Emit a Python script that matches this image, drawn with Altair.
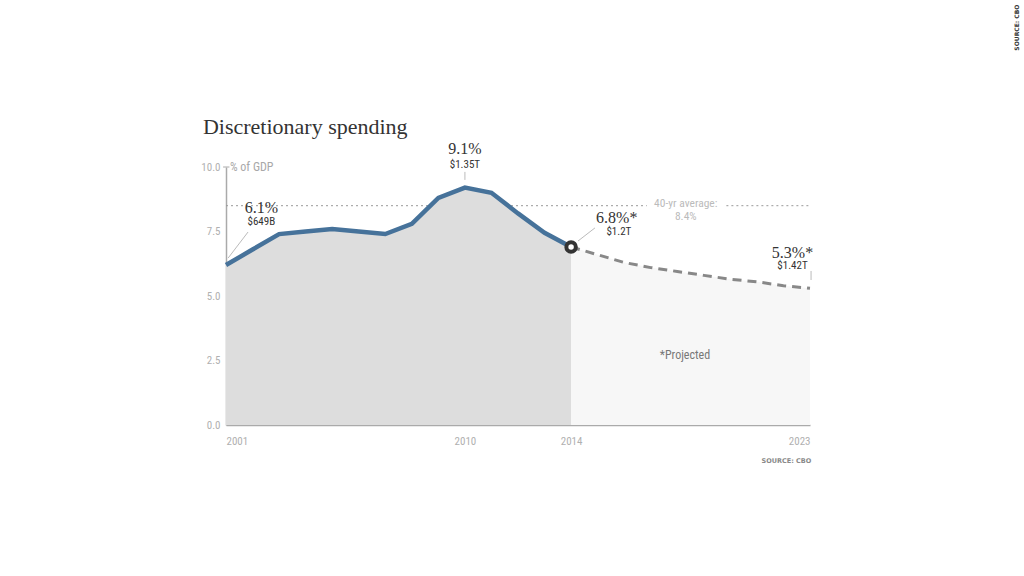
import altair as alt
import pandas as pd

# ---- data ----
hist_years = [2001, 2002, 2003, 2004, 2005, 2006, 2007, 2008, 2009, 2010, 2011, 2012, 2013, 2014]
hist_vals = [6.2, 6.8, 7.4, 7.5, 7.6, 7.5, 7.4, 7.8, 8.8, 9.2, 9.0, 8.2, 7.45, 6.9]
proj_years = [2014, 2015, 2016, 2017, 2018, 2019, 2020, 2021, 2022, 2023]
proj_vals = [6.9, 6.6, 6.3, 6.1, 5.95, 5.8, 5.65, 5.55, 5.4, 5.3]
avg_value = 8.5
avg_segments_start = [2001, 2019.85]
avg_segments_end = [2016.85, 2023]

big_labels = ["6.1%", "9.1%", "6.8%*", "5.3%*"]
big_x = [2002.33, 2010.0, 2015.72, 2022.34]
big_y = [8.2, 10.49, 7.83, 6.48]
small_labels = ["$649B", "$1.35T", "$1.2T", "$1.42T"]
small_x = [2002.33, 2010.0, 2015.8, 2022.34]
small_y = [7.75, 9.98, 7.37, 6.03]
gray_labels = ["40-yr average:", "8.4%"]
gray_x = [2018.32, 2018.32]
gray_y = [8.45, 7.96]

leader_x = [2001.08, 2010.0, 2014.26, 2023.04]
leader_x2 = [2001.83, 2010.0, 2014.9, 2023.04]
leader_y = [6.47, 9.81, 7.13, 5.97]
leader_y2 = [7.48, 9.50, 7.64, 5.62]

x_ticks = [2001, 2010, 2014, 2023]
y_ticks = [0, 2.5, 5, 7.5, 10]

SERIF = "Liberation Serif, DejaVu Serif, serif"
NARROW = "Liberation Sans Narrow, Roboto Condensed, Roboto, Liberation Sans, sans-serif"

hist = pd.DataFrame({"year": hist_years, "val": hist_vals})
proj = pd.DataFrame({"year": proj_years, "val": proj_vals})
avg = pd.DataFrame({"x": avg_segments_start, "x2": avg_segments_end, "y": [avg_value] * 2})
bigs = pd.DataFrame({"x": big_x, "y": big_y, "t": big_labels})
smalls = pd.DataFrame({"x": small_x, "y": small_y, "t": small_labels})
grays = pd.DataFrame({"x": gray_x, "y": gray_y, "t": gray_labels})
leaders = pd.DataFrame({"x": leader_x, "x2": leader_x2, "y": leader_y, "y2": leader_y2})

xs = alt.Scale(domain=[2001, 2023], nice=False, zero=False)
ys = alt.Scale(domain=[0, 10], nice=False)

X = lambda f: alt.X(f, type="quantitative", scale=xs,
                    axis=alt.Axis(values=x_ticks, format="d", title=None, grid=False,
                                  tickSize=0, labelPadding=10, labelColor="#b0b0b0",
                                  labelFont=NARROW, labelFontSize=11, domainColor="#aaaaaa",
                                  domainWidth=1.5))
Y = lambda f: alt.Y(f, type="quantitative", scale=ys,
                    axis=alt.Axis(values=y_ticks, format=".1f", title=None, grid=False,
                                  tickSize=0, labelPadding=6, labelColor="#b0b0b0",
                                  labelFont=NARROW, labelFontSize=11, domainColor="#aaaaaa",
                                  domainWidth=1.5))

avg_rule = alt.Chart(avg).mark_rule(color="#999999", strokeDash=[2, 3], strokeWidth=1).encode(
    x=X("x"), x2="x2", y=Y("y"))
area_h = alt.Chart(hist).mark_area(color="#dddddd").encode(x=X("year"), y=Y("val"))
area_p = alt.Chart(proj).mark_area(color="#f7f7f7").encode(x=X("year"), y=Y("val"))
line_h = alt.Chart(hist).mark_line(color="#46729a", strokeWidth=4.5).encode(x=X("year"), y=Y("val"))
line_p = alt.Chart(proj).mark_line(color="#888888", strokeWidth=3, strokeDash=[9, 6]).encode(
    x=X("year"), y=Y("val"))
dot = alt.Chart(hist.tail(1)).mark_point(shape="circle", size=90, filled=False, fill="white",
                                           fillOpacity=1, stroke="#333333", strokeWidth=4,
                                           opacity=1).encode(x=X("year"), y=Y("val"))
lead = alt.Chart(leaders).mark_rule(color="#bbbbbb", strokeWidth=1).encode(
    x=X("x"), x2="x2", y=Y("y"), y2="y2")
big_t = alt.Chart(bigs).mark_text(font=SERIF, fontSize=16, color="#333333",
                                  baseline="alphabetic").encode(
    x=X("x"), y=Y("y"), text="t")
small_t = alt.Chart(smalls).mark_text(font=NARROW, fontSize=11, color="#333333",
                                      baseline="alphabetic").encode(
    x=X("x"), y=Y("y"), text="t")
gray_t = alt.Chart(grays).mark_text(font=NARROW, fontSize=11.5, color="#bbbbbb",
                                    baseline="alphabetic").encode(
    x=X("x"), y=Y("y"), text="t")

misc = pd.DataFrame({
    "x": [2018.29, 2001.15, 2000.13, 2023.05],
    "y": [2.71, 10.0, 11.28, -1.4],
    "t": ["*Projected", "% of GDP", "Discretionary spending", "SOURCE: CBO"],
})
proj_t = alt.Chart(misc.iloc[[0]]).mark_text(font=NARROW, fontSize=12, color="#777777").encode(
    x=X("x"), y=Y("y"), text="t")
gdp_t = alt.Chart(misc.iloc[[1]]).mark_text(font=NARROW, fontSize=12, color="#a8a8a8",
                                            align="left", baseline="middle").encode(
    x=X("x"), y=Y("y"), text="t")
title_t = alt.Chart(misc.iloc[[2]]).mark_text(font=SERIF, fontSize=22, color="#333333",
                                              align="left", baseline="alphabetic").encode(
    x=X("x"), y=Y("y"), text="t")
src_t = alt.Chart(misc.iloc[[3]]).mark_text(font="DejaVu Sans", fontSize=6.5, color="#888888",
                                            align="right", baseline="middle",
                                            fontWeight="bold").encode(
    x=X("x"), y=Y("y"), text="t")
vsrc = pd.DataFrame({"x": [2030.8], "y": [15.4], "t": ["SOURCE: CBO"]})
vsrc_t = alt.Chart(vsrc).mark_text(font="DejaVu Sans", fontSize=6, color="#333333", angle=270,
                                   baseline="middle", fontWeight="bold").encode(
    x=X("x"), y=Y("y"), text="t")
tick = pd.DataFrame({"x": [2000.89], "x2": [2001.13], "y": [10.0]})
tick_r = alt.Chart(tick).mark_rule(color="#aaaaaa", strokeWidth=1).encode(x=X("x"), x2="x2", y=Y("y"))

chart = alt.layer(
    avg_rule, area_h, area_p, line_h, line_p, dot, lead, big_t, small_t, gray_t,
    proj_t, gdp_t, title_t, src_t, vsrc_t, tick_r
).properties(
    width=584, height=258,
    autosize=alt.AutoSizeParams(type="none"),
    padding={"left": 226, "top": 167, "right": 214, "bottom": 151},
    background="white",
).configure_view(stroke=None)

chart.save("out.html", embed_options={"renderer": "svg", "actions": False})
